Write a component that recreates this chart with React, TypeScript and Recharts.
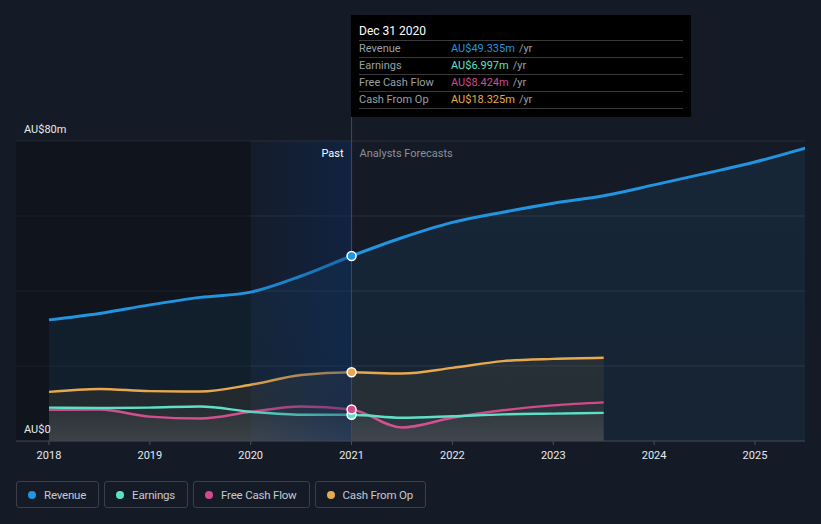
import React from 'react';
import {
  ComposedChart, Area, XAxis, YAxis, CartesianGrid, ReferenceArea, ReferenceLine, ReferenceDot, Label,
} from 'recharts';

// half-year steps, values in AU$m
const periods = [2018, 2018.5, 2019, 2019.5, 2020, 2020.5, 2021, 2021.5, 2022, 2022.5, 2023, 2023.5, 2024, 2024.5, 2025, 2025.5];
const revenue = [32.3, 34.0, 36.3, 38.3, 39.7, 44.0, 49.335, 54.2, 58.3, 61.0, 63.4, 65.4, 68.3, 71.3, 74.4, 78.1];
const earnings = [8.9, 8.8, 8.9, 9.2, 7.8, 7.0, 6.997, 6.2, 6.6, 7.1, 7.3, 7.5];
const freeCashFlow = [8.3, 8.4, 6.5, 6.0, 7.8, 9.2, 8.424, 3.6, 6.2, 8.2, 9.5, 10.3];
const cashFromOp = [13.1, 13.9, 13.3, 13.2, 15.0, 17.6, 18.325, 18.0, 19.5, 21.3, 21.9, 22.2];
const yearTicks = [2018, 2019, 2020, 2021, 2022, 2023, 2024, 2025];
const gridTicks = [0, 20, 40, 60, 80];

const NOW = 2021;
const nowIdx = periods.indexOf(NOW);

const COLORS = {
  revenue: '#2394df',
  earnings: '#5ee0c8',
  fcf: '#d04a8c',
  cash: '#e8a94e',
};

const data = periods.map((p, i) => ({
  p,
  revenue: revenue[i] ?? null,
  earnings: earnings[i] ?? null,
  fcf: freeCashFlow[i] ?? null,
  cash: cashFromOp[i] ?? null,
}));

const FONT = 'Roboto, "Open Sans", sans-serif';

const YLabel = ({ viewBox, text }: any) => (
  <text x={viewBox.x + 8} y={viewBox.y - 8} fill="#e8eaed" fontSize={11} fontFamily={FONT}>
    {text}
  </text>
);

const PastLabel = (props: any) => {
  const { viewBox } = props;
  const right = viewBox.x + viewBox.width;
  return (
    <g fontFamily={FONT} fontSize={11}>
      <text x={right - 8} y={viewBox.y + 16} textAnchor="end" fill="#ffffff">Past</text>
      <text x={right + 8} y={viewBox.y + 16} textAnchor="start" fill="#8b9099">Analysts Forecasts</text>
    </g>
  );
};

const rows = [
  { label: 'Revenue', value: revenue[nowIdx], color: COLORS.revenue },
  { label: 'Earnings', value: earnings[nowIdx], color: COLORS.earnings },
  { label: 'Free Cash Flow', value: freeCashFlow[nowIdx], color: COLORS.fcf },
  { label: 'Cash From Op', value: cashFromOp[nowIdx], color: COLORS.cash },
];

const legend = [
  { label: 'Revenue', color: COLORS.revenue },
  { label: 'Earnings', color: COLORS.earnings },
  { label: 'Free Cash Flow', color: COLORS.fcf },
  { label: 'Cash From Op', color: COLORS.cash },
];

export default function App() {
  return (
    <div style={{ position: 'absolute', left: 0, top: 0, width: 821, height: 524, background: '#151b26', fontFamily: FONT }}>
      <ComposedChart width={821} height={470} data={data} margin={{ top: 15, right: 16, left: 16, bottom: 0 }}>
        <defs>
          <linearGradient id="bandGrad" x1="0" y1="0" x2="1" y2="0">
            <stop offset="0%" stopColor="#0b2d64" stopOpacity={0.15} />
            <stop offset="100%" stopColor="#0b2d64" stopOpacity={0.85} />
          </linearGradient>
          <linearGradient id="revFill" x1="0" y1="0" x2="0" y2="1">
            <stop offset="0%" stopColor={COLORS.revenue} stopOpacity={0.16} />
            <stop offset="100%" stopColor={COLORS.revenue} stopOpacity={0.12} />
          </linearGradient>
          <linearGradient id="cashFill" x1="0" y1="0" x2="0" y2="1">
            <stop offset="0%" stopColor={COLORS.cash} stopOpacity={0.13} />
            <stop offset="100%" stopColor={COLORS.cash} stopOpacity={0.13} />
          </linearGradient>
          <linearGradient id="greyFill" x1="0" y1="0" x2="0" y2="1">
            <stop offset="0%" stopColor="#ffffff" stopOpacity={0.03} />
            <stop offset="100%" stopColor="#ffffff" stopOpacity={0.1} />
          </linearGradient>
        </defs>
        <ReferenceArea x1={2017.673} x2={2020} y1={0} y2={80} fill="#0c0f14" fillOpacity={0.5} stroke="none" />
        <CartesianGrid horizontal vertical={false} stroke="#2a303b" horizontalValues={gridTicks} />
        <XAxis
          dataKey="p"
          type="number"
          domain={[2017.673, 2025.496]}
          ticks={yearTicks}
          allowDataOverflow
          tick={{ fill: '#e8eaed', fontSize: 11, fontFamily: FONT }}
          tickLine={{ stroke: '#4a505b' }}
          tickSize={4}
          tickMargin={6}
          axisLine={{ stroke: '#3b414c' }}
          height={29}
        />
        <YAxis type="number" domain={[0, 113.6]} ticks={gridTicks} hide allowDataOverflow />
        <Area type="monotone" dataKey="revenue" stroke={COLORS.revenue} strokeWidth={3} fill="url(#revFill)" dot={false} activeDot={false} isAnimationActive={false} />
        <Area type="monotone" dataKey="cash" stroke={COLORS.cash} strokeWidth={2.5} fill="url(#cashFill)" dot={false} activeDot={false} isAnimationActive={false} />
        <Area type="monotone" dataKey="fcf" stroke={COLORS.fcf} strokeWidth={2.5} fill="url(#greyFill)" dot={false} activeDot={false} isAnimationActive={false} />
        <Area type="monotone" dataKey="earnings" stroke={COLORS.earnings} strokeWidth={2.5} fill="url(#greyFill)" dot={false} activeDot={false} isAnimationActive={false} />
        <ReferenceArea x1={2020} x2={NOW} y1={0} y2={80} fill="url(#bandGrad)" stroke="none">
          <Label content={<PastLabel />} />
        </ReferenceArea>
        <ReferenceLine y={80} stroke="none" label={<YLabel text="AU$80m" />} />
        <ReferenceLine y={0} stroke="none" label={<YLabel text="AU$0" />} />
        <ReferenceLine x={NOW} stroke="#414a58" strokeWidth={1} />
        <ReferenceDot x={NOW} y={revenue[nowIdx]} r={4.5} fill={COLORS.revenue} stroke="#ffffff" strokeWidth={1.5} />
        <ReferenceDot x={NOW} y={cashFromOp[nowIdx]} r={4.5} fill={COLORS.cash} stroke="#ffffff" strokeWidth={1.5} />
        <ReferenceDot x={NOW} y={earnings[nowIdx]} r={4.5} fill={COLORS.earnings} stroke="#ffffff" strokeWidth={1.5} />
        <ReferenceDot x={NOW} y={freeCashFlow[nowIdx]} r={4.5} fill={COLORS.fcf} stroke="#ffffff" strokeWidth={1.5} />
      </ComposedChart>

      {/* static tooltip for Dec 31 2020 */}
      <div style={{ position: 'absolute', left: 351, top: 15, width: 340, height: 102, background: '#000000', boxSizing: 'border-box', padding: '0 8px' }}>
        <div style={{ color: '#ffffff', fontSize: 12, height: 25, lineHeight: '32px', borderBottom: '1px solid #3a3a3a' }}>Dec 31 2020</div>
        {rows.map((r) => (
          <div key={r.label} style={{ display: 'flex', fontSize: 11, height: 16, lineHeight: '16px', borderBottom: '1px solid #3a3a3a' }}>
            <span style={{ width: 92, color: '#9aa0a6' }}>{r.label}</span>
            <span style={{ color: r.color }}>AU${r.value.toFixed(3)}m</span>
            <span style={{ color: '#9aa0a6', marginLeft: 4 }}>/yr</span>
          </div>
        ))}
      </div>

      <div style={{ position: 'absolute', left: 16, top: 481, display: 'flex', gap: 5 }}>
        {legend.map((l) => (
          <div key={l.label} style={{ display: 'flex', alignItems: 'center', height: 27, boxSizing: 'border-box', border: '1px solid #3a404b', borderRadius: 3, padding: '0 12px 0 11px', color: '#c6c9cf', fontSize: 11.5, letterSpacing: -0.2 }}>
            <span style={{ width: 8, height: 8, borderRadius: 4, background: l.color, marginRight: 8 }} />
            {l.label}
          </div>
        ))}
      </div>
    </div>
  );
}
